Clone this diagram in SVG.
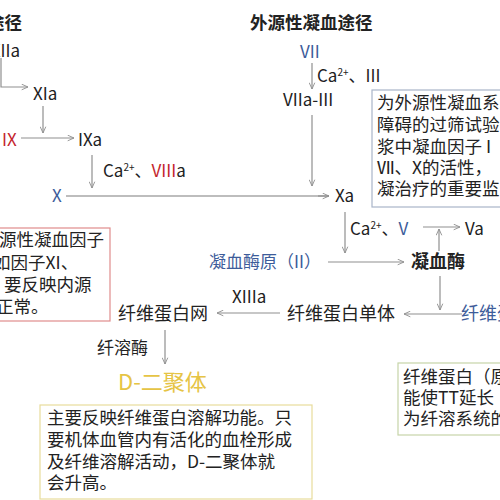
<svg xmlns="http://www.w3.org/2000/svg" width="500" height="500" viewBox="0 0 500 500">
<style>
text{font-family:"Noto Sans CJK SC","Liberation Sans",sans-serif;font-size:17px;fill:#222}
.h{font-size:17.5px;font-weight:bold}
.b{fill:#3d5c9a}
.r{fill:#c4262e}
.g{fill:#e6c445;font-size:22px}
.bk{font-size:18px}
.sup{font-size:10px}
.bt{font-size:17.5px}
.c{fill:none;stroke:#8f8f8f;stroke-width:1.2}
.cx{fill:none;stroke:#bdbdbd;stroke-width:2}
</style>
<defs>
<marker id="ah" viewBox="0 0 10 10" refX="10" refY="5" markerWidth="7" markerHeight="7" orient="auto" markerUnits="userSpaceOnUse">
<path d="M1,1 L10,5 L1,9" fill="none" stroke="#8f8f8f" stroke-width="1.3"/>
</marker>
</defs>
<rect width="500" height="500" fill="#fff"/>
<g id="connectors">
<path class="c" d="M1,58 V87 H28" marker-end="url(#ah)"/>
<path class="c" d="M43,106 V133" marker-end="url(#ah)"/>
<path class="c" d="M21,138 H74" marker-end="url(#ah)"/>
<path class="c" d="M92,155 V188" marker-end="url(#ah)"/>
<path class="cx" d="M66,196 H329"/>
<path class="c" d="M318,196 H329" marker-end="url(#ah)"/>
<path class="c" d="M312,63 V89" marker-end="url(#ah)"/>
<path class="c" d="M312,115 V186" marker-end="url(#ah)"/>
<path class="c" d="M345,212 V253" marker-end="url(#ah)"/>
<path class="c" d="M423,227 H460" marker-end="url(#ah)"/>
<path class="c" d="M439,251 V229" marker-end="url(#ah)"/>
<path class="c" d="M328,262 H404" marker-end="url(#ah)"/>
<path class="c" d="M440,276 V310" marker-end="url(#ah)"/>
<path class="c" d="M462,314 H404" marker-end="url(#ah)"/>
<path class="c" d="M280,313 H217" marker-end="url(#ah)"/>
<path class="c" d="M165,330 V364" marker-end="url(#ah)"/>
</g>
<g id="intrinsic-title"><text class="h" x="22" y="29" text-anchor="end">途径</text></g>
<g id="extrinsic-title"><text class="h" x="250" y="29">外源性凝血途径</text></g>
<g id="XIIa"><text x="20" y="57" text-anchor="end">XIIa</text></g>
<g id="XIa"><text x="33" y="100">XIa</text></g>
<g id="IX"><text class="r" x="2" y="146">IX</text></g>
<g id="IXa"><text x="78" y="146">IXa</text></g>
<g id="ca-VIIIa"><text x="103" y="177">Ca<tspan class="sup" dy="-6">2+</tspan><tspan dy="6">、</tspan><tspan class="r">VIII</tspan>a</text></g>
<g id="X"><text class="b" x="52" y="202">X</text></g>
<g id="VII"><text class="b" x="300" y="58">VII</text></g>
<g id="ca-III"><text x="317" y="82">Ca<tspan class="sup" dy="-6">2+</tspan><tspan dy="6">、III</tspan></text></g>
<g id="VIIa-III"><text x="283" y="106">VIIa-III</text></g>
<g id="Xa"><text x="335" y="202">Xa</text></g>
<g id="ca-V"><text x="350" y="235">Ca<tspan class="sup" dy="-6">2+</tspan><tspan dy="6">、</tspan><tspan class="b">V</tspan></text></g>
<g id="Va"><text x="465" y="235">Va</text></g>
<g id="prothrombin"><text class="b" x="209" y="268">凝血酶原（II）</text></g>
<g id="thrombin"><text class="bk" x="411" y="268" font-weight="bold">凝血酶</text></g>
<g id="fibrinogen"><text class="b bk" x="461" y="320">纤维蛋白原</text></g>
<g id="fibrin-monomer"><text class="bk" x="287" y="320">纤维蛋白单体</text></g>
<g id="XIIIa"><text x="232" y="303">XIIIa</text></g>
<g id="fibrin-net"><text class="bk" x="118" y="320">纤维蛋白网</text></g>
<g id="plasmin"><text x="97" y="354">纤溶酶</text></g>
<g id="d-dimer"><text class="g" x="118" y="390">D-二聚体</text></g>
<g id="note-pt">
<rect x="372" y="90" width="140" height="117" fill="#fff" stroke="#a9b5c9" stroke-width="1.2"/>
<text class="bt" x="377" y="109">为外源性凝血系</text>
<text class="bt" x="377" y="131">障碍的过筛试验</text>
<text class="bt" x="377" y="153">浆中凝血因子 I</text>
<text class="bt" x="377" y="174">Ⅶ、X的活性，</text>
<text class="bt" x="377" y="195">凝治疗的重要监</text>
</g>
<g id="note-aptt">
<rect x="-10" y="228" width="120" height="93" fill="#fff" stroke="#e08c8c" stroke-width="1.2"/>
<text class="bt" x="-1" y="246">源性凝血因子</text>
<text class="bt" x="-7" y="269">如因子XI、</text>
<text class="bt" x="4" y="291">要反映内源</text>
<text class="bt" x="-4" y="313">正常。</text>
</g>
<g id="note-ddimer">
<rect x="40" y="405" width="272" height="94" fill="#fff" stroke="#e8dc9c" stroke-width="1.2"/>
<text class="bt" x="47" y="424">主要反映纤维蛋白溶解功能。只</text>
<text class="bt" x="47" y="446">要机体血管内有活化的血栓形成</text>
<text class="bt" x="47" y="468">及纤维溶解活动，D-二聚体就</text>
<text class="bt" x="47" y="489">会升高。</text>
</g>
<g id="note-tt">
<rect x="398" y="363" width="120" height="72" fill="#fff" stroke="#c6d4a8" stroke-width="1.2"/>
<text class="bt" x="403" y="383">纤维蛋白（原</text>
<text class="bt" x="403" y="404">能使TT延长</text>
<text class="bt" x="403" y="425">为纤溶系统的</text>
</g>
</svg>
